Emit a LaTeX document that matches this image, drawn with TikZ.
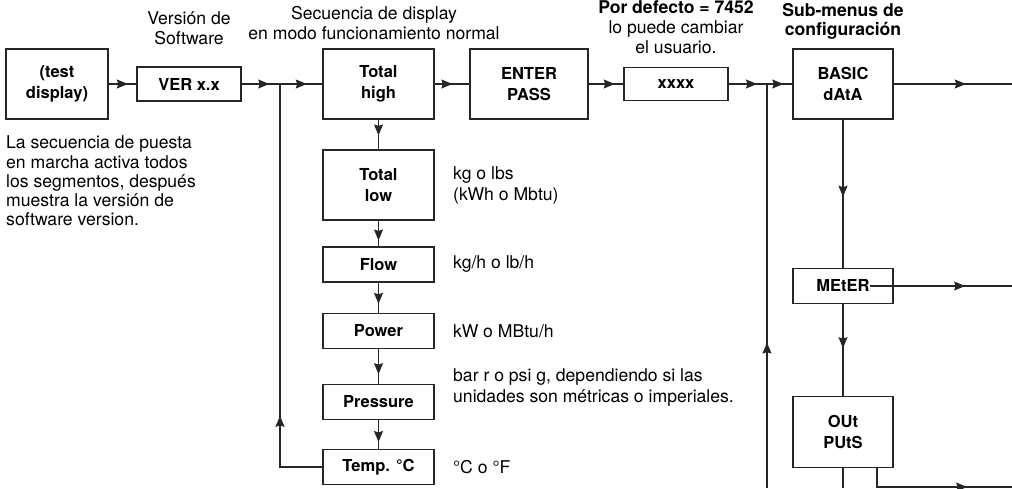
\documentclass[tikz,border=0pt]{standalone}
\usepackage{fontspec}
\setmainfont{TeX Gyre Heros}
\usetikzlibrary{arrows.meta,decorations.markings}
\begin{document}
\begin{tikzpicture}[x=1pt,y=-1pt,
  box/.style={draw=black!85, line width=1.1pt, font=\fontsize{16.5}{21}\selectfont\bfseries, align=center, inner sep=0pt},
  con/.style={draw=black!85, line width=1.1pt},
  tip/.style={postaction={decorate}, decoration={markings, mark=at position #1 with {\arrow{Stealth[length=11pt,width=9pt,inset=1.5pt]}}}},
  txt/.style={font=\fontsize{17.6}{20}\selectfont, inner sep=0pt, align=left, anchor=west},
  ctxt/.style={font=\fontsize{17.6}{20}\selectfont, inner sep=0pt, align=center},
  ]
\useasboundingbox (0,0) rectangle (1012,488);
% top row
\node[box, minimum width=102pt, minimum height=70pt] (test) at (57,84) {(test\\display)};
\node[box, minimum width=104pt, minimum height=34pt] (ver) at (189,84) {VER x.x};
\node[box, minimum width=111pt, minimum height=70pt] (th) at (378.5,84) {Total\\high};
\node[box, minimum width=118pt, minimum height=70pt] (ep) at (529,84) {ENTER\\PASS};
\node[box, minimum width=104pt, minimum height=33pt] (xx) at (676,84) {xxxx};
\node[box, minimum width=100pt, minimum height=70pt] (basic) at (843,84) {BASIC\\dAtA};
% right column
\node[box, minimum width=100pt, minimum height=35pt] (meter) at (843,286) {MEtER};
\node[box, minimum width=100pt, minimum height=71pt] (outs) at (843,432) {OUt\\PUtS};
% left column
\node[box, minimum width=111pt, minimum height=70pt] (tl) at (378.5,185) {Total\\low};
\node[box, minimum width=111pt, minimum height=35pt] (flow) at (378.5,264.5) {Flow};
\node[box, minimum width=111pt, minimum height=35pt] (power) at (378.5,331) {Power};
\node[box, minimum width=111pt, minimum height=35pt] (press) at (378.5,402) {Pressure};
\node[box, minimum width=111pt, minimum height=35pt] (temp) at (378.5,467) {Temp. °C};
% coordinates
\coordinate (j1) at (280,84);
\coordinate (j2) at (767,84);
\coordinate (e1) at (1012,84);
\coordinate (ms) at (870,286);
\coordinate (e2) at (1012,286);
\coordinate (b1) at (843,488);
\coordinate (o2) at (877,467);
\coordinate (o3) at (877,487);
\coordinate (e3) at (1012,487);
\coordinate (b2) at (767,488);
% connectors
\draw[con, tip=0.69] (test) -- (ver);
\draw[con, tip=0.72] (ver) -- (j1);
\draw[con, tip=0.63] (j1) -- (th);
\draw[con, tip=0.51] (th) -- (ep);
\draw[con, tip=0.75] (ep) -- (xx);
\draw[con, tip=0.74] (xx) -- (j2);
\draw[con, tip=0.64] (j2) -- (basic);
\draw[con, tip=0.61] (basic) -- (e1);
\draw[con, tip=0.52] (basic) -- (meter);
\draw[con, tip=0.67] (ms) -- (e2);
\draw[con, tip=0.48] (meter) -- (outs);
\draw[con] (outs) -- (b1);
\draw[con, tip=0.71] (o2) -- (o3) -- (e3);
\draw[con, tip=0.36] (b2) -- (j2);
\draw[con, tip=0.22] (temp.west) -| (j1);
\draw[con, tip=0.53] (th) -- (tl);
\draw[con, tip=0.77] (tl) -- (flow);
\draw[con, tip=0.70] (flow) -- (power);
\draw[con, tip=0.72] (power) -- (press);
\draw[con, tip=0.76] (press) -- (temp);
% texts
\node[txt, font=\fontsize{17.6}{19.2}\selectfont] (intro) at (6,181) {La secuencia de puesta\\en marcha activa todos\\los segmentos, después\\muestra la versión de\\software version.};
\node[ctxt] (verlbl) at (189,28) {Versión de\\Software};
\node[ctxt] (seqlbl) at (374,23) {Secuencia de display\\en modo funcionamiento normal};
\node[ctxt] (deflbl) at (676,27) {\textbf{Por defecto = 7452}\\lo puede cambiar\\el usuario.};
\node[ctxt, font=\fontsize{17.6}{19}\selectfont\bfseries] (sublbl) at (843,21.5) {Sub-menus de\\configuración};
\node[txt, font=\fontsize{17.6}{21}\selectfont] (u1) at (453,185.5) {kg o lbs\\(kWh o Mbtu)};
\node[txt] (u2) at (453,264) {kg/h o lb/h};
\node[txt] (u3) at (453,331) {kW o MBtu/h};
\node[txt, font=\fontsize{17.6}{21}\selectfont] (u4) at (453,387.5) {bar r o psi g, dependiendo si las\\unidades son métricas o imperiales.};
\node[txt] (u5) at (453,467) {°C o °F};
\end{tikzpicture}
\end{document}
